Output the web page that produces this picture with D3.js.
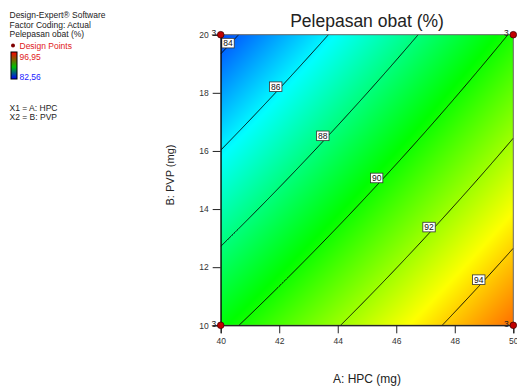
<!DOCTYPE html>
<html><head><meta charset="utf-8">
<script src="https://cdn.jsdelivr.net/npm/d3@7"></script>
<style>
html,body{margin:0;padding:0;background:#fff;}
svg text{font-family:Arial,"Liberation Sans",sans-serif;}
</style></head>
<body>
<svg id="chart" width="517" height="386"></svg>
<script>
// ---- data ----
const factorA = [40, 50];                 // A: HPC (mg) design range
const factorB = [10, 20];                 // B: PVP (mg) design range
// predicted response at the design corners: rows B=10,B=20 ; columns A=40,A=50
const cornerResponseB10 = [89.64, 95.40];
const cornerResponseB20 = [83.60, 90.12];
const contourLevels = [84, 86, 88, 90, 92, 94];
const colorLow = 82.56, colorHigh = 96.95;
const xTicks = [40, 42, 44, 46, 48, 50];
const yTicks = [10, 12, 14, 16, 18, 20];
const designA = [40, 50, 40, 50];
const designB = [10, 10, 20, 20];
const designReps = [3, 3, 3, 3];
const legendLines = ["Design-Expert\u00AE Software", "Factor Coding: Actual", "Pelepasan obat (%)"];
const factorLines = ["X1 = A: HPC", "X2 = B: PVP"];

// ---- layout (not data): where each contour label box sits, in factor units ----
const labelPosA = [40.25, 41.88, 43.49, 45.33, 47.12, 48.82];
const labelPosB = [19.71, 18.21, 16.52, 15.07, 13.38, 11.57];
const L = 220.7, R = 513.3, T = 34.7, B = 325.3;

const svg = d3.select("#chart");
const x = d3.scaleLinear().domain(factorA).range([L, R]);
const y = d3.scaleLinear().domain(factorB).range([B, T]);

function z(a, b) {
  const u = (a - factorA[0]) / (factorA[1] - factorA[0]);
  const v = (b - factorB[0]) / (factorB[1] - factorB[0]);
  return cornerResponseB10[0]*(1-u)*(1-v) + cornerResponseB10[1]*u*(1-v)
       + cornerResponseB20[0]*(1-u)*v + cornerResponseB20[1]*u*v;
}
const span = colorHigh - colorLow;
const color = d3.scaleLinear()
  .domain([colorLow, colorLow+0.25*span, colorLow+0.5*span, colorLow+0.75*span, colorHigh])
  .range(["#0000ff", "#00ffff", "#00ff00", "#ffff00", "#ff0000"])
  .clamp(true);

// filled surface via canvas image
const W = Math.round(R - L), H = Math.round(B - T);
const cv = document.createElement("canvas");
cv.width = W; cv.height = H;
const ctx = cv.getContext("2d");
const img = ctx.createImageData(W, H);
for (let j = 0; j < H; j++) {
  for (let i = 0; i < W; i++) {
    const a = x.invert(L + (i + 0.5) * (R - L) / W);
    const b = y.invert(T + (j + 0.5) * (B - T) / H);
    const c = d3.rgb(color(z(a, b)));
    const k = (j * W + i) * 4;
    img.data[k] = c.r; img.data[k+1] = c.g; img.data[k+2] = c.b; img.data[k+3] = 255;
  }
}
ctx.putImageData(img, 0, 0);
svg.append("image").attr("x", L).attr("y", T).attr("width", R - L).attr("height", B - T)
  .attr("preserveAspectRatio", "none").attr("href", cv.toDataURL());

// contour lines (surface is linear in A for fixed B)
function solveA(level, b) {
  const p = z(factorA[0], b), q = z(factorA[1], b) - p;
  const u = (level - p) / q;
  return factorA[0] + u * (factorA[1] - factorA[0]);
}
function solveB(level, a) {
  const p = z(a, factorB[0]), q = z(a, factorB[1]) - p;
  const v = (level - p) / q;
  return factorB[0] + v * (factorB[1] - factorB[0]);
}
const line = d3.line().x(d => x(d[0])).y(d => y(d[1]));
contourLevels.forEach(lv => {
  let pts = [];
  const N = 300;
  for (let s = 0; s <= N; s++) {
    const b = factorB[0] + s * (factorB[1] - factorB[0]) / N;
    const a = solveA(lv, b);
    if (a >= factorA[0] && a <= factorA[1]) pts.push([a, b]);
  }
  factorA.forEach(a => {
    const b = solveB(lv, a);
    if (b >= factorB[0] && b <= factorB[1]) pts.push([a, b]);
  });
  pts.sort((p1, p2) => p1[1] - p2[1]);
  svg.append("path").attr("d", line(pts)).attr("fill", "none")
    .attr("stroke", "#000").attr("stroke-width", 0.9);
});

// contour labels
contourLevels.forEach((lv, i) => {
  const g = svg.append("g").attr("transform", `translate(${x(labelPosA[i])},${y(labelPosB[i])})`);
  g.append("rect").attr("x", -6.2).attr("y", -4.8).attr("width", 12.4).attr("height", 9.6)
    .attr("fill", "#fff").attr("stroke", "#333").attr("stroke-width", 0.8);
  g.append("text").attr("text-anchor", "middle").attr("y", 3).attr("font-size", 8.5)
    .attr("fill", "#111").text(lv);
});

// frame
svg.append("rect").attr("x", L).attr("y", T).attr("width", R - L).attr("height", B - T)
  .attr("fill", "none").attr("stroke", "#666").attr("stroke-width", 1);

// axes
const xAxis = svg.append("g").attr("transform", `translate(0,${B})`)
  .call(d3.axisBottom(x).tickValues(xTicks).tickSize(8).tickPadding(5).tickFormat(d3.format("d")));
const yAxis = svg.append("g").attr("transform", `translate(${L},0)`)
  .call(d3.axisLeft(y).tickValues(yTicks).tickSize(8).tickPadding(4).tickFormat(d3.format("d")));
[xAxis, yAxis].forEach(ax => {
  ax.select(".domain").attr("stroke", "#000");
  ax.selectAll(".tick line").attr("stroke", "#222");
  ax.selectAll(".tick text").attr("font-size", 8.5).attr("fill", "#333")
    .attr("font-family", "Arial, 'Liberation Sans', sans-serif");
});

// design points
designA.forEach((a, i) => {
  svg.append("circle").attr("cx", x(a)).attr("cy", y(designB[i])).attr("r", 3.3)
    .attr("fill", "#c00000").attr("stroke", "#400").attr("stroke-width", 0.8);
  svg.append("text").attr("x", x(a) - 4.5).attr("y", y(designB[i]) + 1.5)
    .attr("text-anchor", "end").attr("font-size", 8.5).attr("fill", "#222")
    .text(designReps[i]);
});

// titles
svg.append("text").attr("x", (L + R) / 2).attr("y", 27).attr("text-anchor", "middle")
  .attr("font-size", 17.5).attr("fill", "#222").text("Pelepasan obat (%)");
svg.append("text").attr("x", (L + R) / 2).attr("y", 383).attr("text-anchor", "middle")
  .attr("font-size", 12).attr("fill", "#222").text("A: HPC (mg)");
svg.append("text").attr("transform", "translate(174,175) rotate(-90)").attr("text-anchor", "middle")
  .attr("font-size", 11).attr("fill", "#222").text("B: PVP (mg)");

// left legend
legendLines.forEach((t, i) => {
  svg.append("text").attr("x", 9.5).attr("y", 18 + i * 9.7).attr("font-size", 8.5)
    .attr("fill", "#222").text(t);
});
svg.append("circle").attr("cx", 13).attr("cy", 45.5).attr("r", 2).attr("fill", "#800000");
svg.append("text").attr("x", 19.5).attr("y", 48.5).attr("font-size", 8.5).attr("fill", "#e02020").text("Design Points");
const grad = svg.append("defs").append("linearGradient").attr("id", "cbar")
  .attr("x1", 0).attr("y1", 0).attr("x2", 0).attr("y2", 1);
grad.append("stop").attr("offset", "0%").attr("stop-color", "#ff0000");
grad.append("stop").attr("offset", "55%").attr("stop-color", "#00c000");
grad.append("stop").attr("offset", "100%").attr("stop-color", "#0000ff");
svg.append("rect").attr("x", 11).attr("y", 52).attr("width", 6).attr("height", 27)
  .attr("fill", "url(#cbar)").attr("stroke", "#000").attr("stroke-width", 1);
svg.append("text").attr("x", 19.5).attr("y", 60).attr("font-size", 8.5).attr("fill", "#e02020")
  .text(d3.format(".2f")(colorHigh).replace(".", ","));
svg.append("text").attr("x", 19.5).attr("y", 79.5).attr("font-size", 8.5).attr("fill", "#2020ff")
  .text(d3.format(".2f")(colorLow).replace(".", ","));
factorLines.forEach((t, i) => {
  svg.append("text").attr("x", 9.5).attr("y", 110.7 + i * 9.7).attr("font-size", 8.5)
    .attr("fill", "#222").text(t);
});
</script>
</body></html>
